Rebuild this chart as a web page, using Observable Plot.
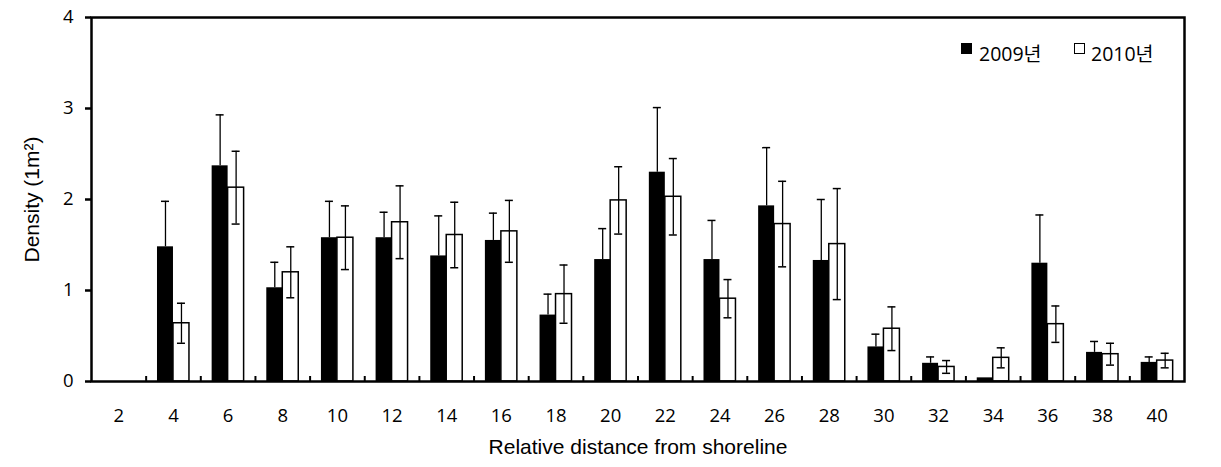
<!DOCTYPE html>
<html>
<head>
<meta charset="utf-8">
<script src="https://cdn.jsdelivr.net/npm/d3@7"></script>
<script src="https://cdn.jsdelivr.net/npm/@observablehq/plot@0.6"></script>
<style>
  body { margin: 0; background: white; }
  #wrap { position: relative; width: 1221px; height: 467px; }
  .lg-box { position: absolute; width: 11px; height: 11px; box-sizing: border-box; }
  .lg-text { position: absolute; font-family: "Open Sans", "Noto Sans CJK KR", sans-serif; font-size: 19.5px; line-height: 20px; color: #000; white-space: nowrap; }
</style>
</head>
<body>
<div id="wrap"></div>
<script>
const categories = ["2","4","6","8","10","12","14","16","18","20","22","24","26","28","30","32","34","36","38","40"];
const density2009 = [0, 1.48, 2.37, 1.03, 1.58, 1.58, 1.38, 1.55, 0.73, 1.34, 2.30, 1.34, 1.93, 1.33, 0.38, 0.20, 0.04, 1.30, 0.32, 0.21];
const error2009   = [0, 0.50, 0.56, 0.28, 0.40, 0.28, 0.44, 0.30, 0.23, 0.34, 0.71, 0.43, 0.64, 0.67, 0.14, 0.07, 0, 0.53, 0.12, 0.06];
const density2010 = [0, 0.64, 2.13, 1.20, 1.58, 1.75, 1.61, 1.65, 0.96, 1.99, 2.03, 0.91, 1.73, 1.51, 0.58, 0.16, 0.26, 0.63, 0.30, 0.23];
const error2010   = [0, 0.22, 0.40, 0.28, 0.35, 0.40, 0.36, 0.34, 0.32, 0.37, 0.42, 0.21, 0.47, 0.61, 0.24, 0.07, 0.11, 0.20, 0.12, 0.08];
const yTicks = [0, 1, 2, 3, 4];
const seriesLabels = ["2009년", "2010년"];
const xTitle = "Relative distance from shoreline";
const yTitle = "Density (1m²)";

const rows = categories.map((c, i) => ({
  cat: c, v2009: density2009[i], e2009: error2009[i], v2010: density2010[i], e2010: error2010[i]
}));

const W = 1221, H = 467, ML = 91, MR = 37, MT = 17, MB = 86;
const padInner = 0.415;
const step = (W - ML - MR) / categories.length;
const bw = step * (1 - padInner);
const cap = 8;
const plotH = H - MT - MB;

const chart = Plot.plot({
  width: W, height: H,
  marginLeft: ML, marginRight: MR, marginTop: MT, marginBottom: MB,
  style: { fontFamily: "Open Sans, sans-serif", fontSize: "18.5px", background: "white", color: "black", overflow: "visible" },
  x: { type: "band", domain: categories, paddingInner: padInner, paddingOuter: padInner / 2, align: 0.5, round: false },
  y: { domain: [0, 4] },
  marks: [
    Plot.barY(rows.filter(d => d.v2009 > 0), { x: "cat", y: "v2009", fill: "black", insetRight: bw / 2 }),
    Plot.barY(rows.filter(d => d.v2010 > 0), { x: "cat", y: "v2010", fill: "white", stroke: "black", strokeWidth: 1.5, insetLeft: bw / 2 }),
    // 2009 error bars (upper)
    Plot.ruleX(rows.filter(d => d.e2009 > 0), { x: "cat", y1: "v2009", y2: d => d.v2009 + d.e2009, dx: -bw / 4, stroke: "black", strokeWidth: 1.3 }),
    Plot.tickY(rows.filter(d => d.e2009 > 0), { x: "cat", y: d => d.v2009 + d.e2009, insetLeft: bw / 4 - cap / 2, insetRight: 3 * bw / 4 - cap / 2, stroke: "black", strokeWidth: 1.5 }),
    // 2010 error bars
    Plot.ruleX(rows.filter(d => d.e2010 > 0), { x: "cat", y1: d => d.v2010 - d.e2010, y2: d => d.v2010 + d.e2010, dx: bw / 4, stroke: "black", strokeWidth: 1.3 }),
    Plot.tickY(rows.filter(d => d.e2010 > 0), { x: "cat", y: d => d.v2010 + d.e2010, insetLeft: 3 * bw / 4 - cap / 2, insetRight: bw / 4 - cap / 2, stroke: "black", strokeWidth: 1.5 }),
    Plot.tickY(rows.filter(d => d.e2010 > 0), { x: "cat", y: d => d.v2010 - d.e2010, insetLeft: 3 * bw / 4 - cap / 2, insetRight: bw / 4 - cap / 2, stroke: "black", strokeWidth: 1.5 }),
    // category boundary ticks (inside, upward)
    Plot.ruleX(categories.slice(0, -1), { x: d => d, dx: step / 2, insetTop: plotH - 5, stroke: "black", strokeWidth: 2 }),
    Plot.frame({ stroke: "black", strokeWidth: 2.5 }),
    Plot.axisY({ ticks: yTicks, tickSize: 6, tickPadding: 12, tickFormat: d3.format("d"), strokeWidth: 2.5, label: null }),
    Plot.axisX({ tickSize: 0, tickPadding: 27, label: null }),
    Plot.text([xTitle], { frameAnchor: "bottom", dy: 66, lineAnchor: "middle", textAnchor: "middle", fontSize: 21, fontFamily: "Liberation Sans, Arial, sans-serif", fill: "black" }),
    Plot.text([yTitle], { frameAnchor: "left", dx: -59, rotate: -90, lineAnchor: "middle", textAnchor: "middle", fontSize: 21, fontFamily: "Liberation Sans, Arial, sans-serif", fill: "black" })
  ]
});

const wrap = document.getElementById("wrap");
wrap.appendChild(chart);

// legend (inside plot, top-right)
const legendItems = [
  { label: seriesLabels[0], boxLeft: 961, textLeft: 979, fill: "black", border: "none" },
  { label: seriesLabels[1], boxLeft: 1074, textLeft: 1091, fill: "white", border: "1px solid black" }
];
for (const it of legendItems) {
  const b = document.createElement("div");
  b.className = "lg-box";
  b.style.left = it.boxLeft + "px";
  b.style.top = "43px";
  b.style.background = it.fill;
  b.style.border = it.border;
  wrap.appendChild(b);
  const t = document.createElement("div");
  t.className = "lg-text";
  t.style.left = it.textLeft + "px";
  t.style.top = "44px";
  t.textContent = it.label;
  wrap.appendChild(t);
}
</script>
</body>
</html>
